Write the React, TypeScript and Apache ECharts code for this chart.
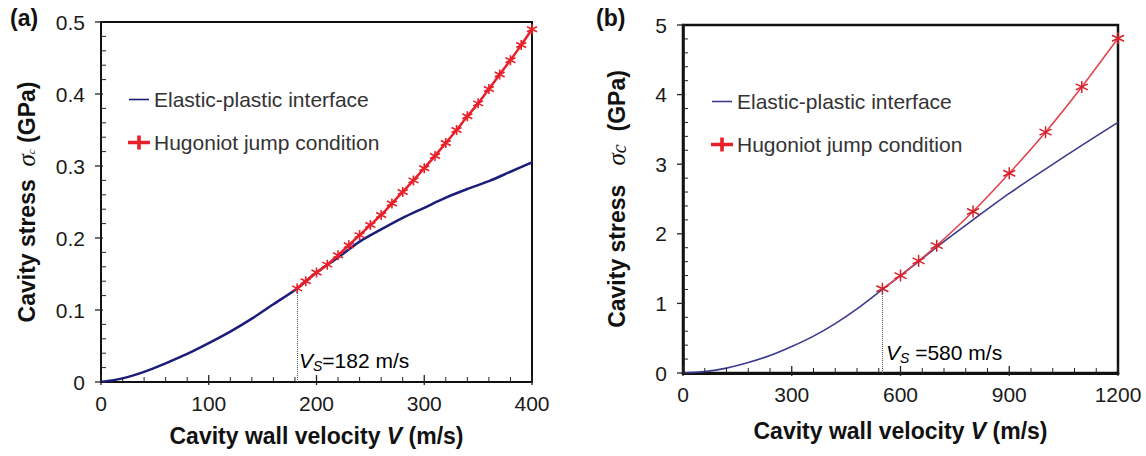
import React, { useEffect, useRef } from "react";
import * as echarts from "echarts";

// Panel (a)
const aElasticV = [0, 20, 40, 60, 80, 100, 120, 140, 160, 182, 200, 220, 240, 260, 280, 300, 320, 340, 360, 380, 400];
const aElasticS = [0, 0.005, 0.014, 0.026, 0.039, 0.054, 0.07, 0.088, 0.108, 0.13, 0.152, 0.173, 0.195, 0.212, 0.228, 0.242, 0.256, 0.268, 0.279, 0.292, 0.305];
const aHugV = [182, 190, 200, 210, 220, 230, 240, 250, 260, 270, 280, 290, 300, 310, 320, 330, 340, 350, 360, 370, 380, 390, 400];
const aHugS = [0.13, 0.14, 0.152, 0.163, 0.176, 0.19, 0.204, 0.218, 0.232, 0.248, 0.264, 0.28, 0.297, 0.314, 0.332, 0.35, 0.369, 0.387, 0.407, 0.427, 0.447, 0.468, 0.49];
const aVs = 182;
const aVsStress = 0.13;

// Panel (b)
const bElasticV = [0, 60, 120, 180, 240, 300, 360, 420, 480, 550, 600, 650, 700, 800, 900, 1000, 1100, 1200];
const bElasticS = [0, 0.02, 0.07, 0.15, 0.25, 0.38, 0.53, 0.71, 0.92, 1.2, 1.4, 1.6, 1.81, 2.2, 2.58, 2.93, 3.27, 3.6];
const bHugV = [550, 600, 650, 700, 800, 900, 1000, 1100, 1200];
const bHugS = [1.21, 1.4, 1.61, 1.83, 2.32, 2.87, 3.46, 4.11, 4.81];
const bVs = 550;
const bVsStress = 1.2;

// Tick positions (major + minor)
const aXTicks = [0, 20, 40, 60, 80, 100, 120, 140, 160, 180, 200, 220, 240, 260, 280, 300, 320, 340, 360, 380, 400];
const aYTicks = [0, 0.02, 0.04, 0.06, 0.08, 0.1, 0.12, 0.14, 0.16, 0.18, 0.2, 0.22, 0.24, 0.26, 0.28, 0.3, 0.32, 0.34, 0.36, 0.38, 0.4, 0.42, 0.44, 0.46, 0.48, 0.5];
const bXTicks = [0, 60, 120, 180, 240, 300, 360, 420, 480, 540, 600, 660, 720, 780, 840, 900, 960, 1020, 1080, 1140, 1200];
const bYTicks = [0, 0.2, 0.4, 0.6, 0.8, 1, 1.2, 1.4, 1.6, 1.8, 2, 2.2, 2.4, 2.6, 2.8, 3, 3.2, 3.4, 3.6, 3.8, 4, 4.2, 4.4, 4.6, 4.8, 5];

const NAME_E = "Elastic-plastic interface";
const NAME_H = "Hugoniot jump condition";

const zip = (xs: number[], ys: number[]) => xs.map((x, i) => [x, ys[i]]);

const STAR = "path://M0,-5L0,5M-4.33,-2.5L4.33,2.5M-4.33,2.5L4.33,-2.5";
const ICON_LINE = "path://M0,5.2L20,5.2L20,6.8L0,6.8Z";
const ICON_PLUS = "path://M0,5.2L20,5.2L20,6.8L0,6.8Z M9.2,0L10.8,0L10.8,12L9.2,12Z";
const FONT = "Liberation Sans, Arial, sans-serif";

const isMajor = (v: number, step: number) => Math.abs(v / step - Math.round(v / step)) < 1e-6;

export default function App() {
  const ref = useRef<HTMLDivElement>(null);
  useEffect(() => {
    if (!ref.current) return;
    const chart = echarts.init(ref.current, null, { renderer: "svg" });

    const axisBase = (min: number, max: number, interval: number, margin: number) => ({
      type: "value",
      min,
      max,
      interval,
      splitLine: { show: false },
      axisTick: { show: false },
      minorTick: { show: false },
      axisLabel: { color: "#1a1a1a", fontSize: 21, fontFamily: FONT, margin, formatter: (v: number) => String(v) },
    });

    const xTickSeries = (idx: number, ticks: number[], step: number) => ({
      type: "custom",
      xAxisIndex: idx,
      yAxisIndex: idx,
      silent: true,
      clip: false,
      z: 5,
      data: ticks.map((v) => [v, 0]),
      renderItem: (params: any, api: any) => {
        const v = api.value(0);
        const p = api.coord([v, api.value(1)]);
        const major = isMajor(v, step);
        return {
          type: "line",
          shape: { x1: p[0], y1: p[1] + (major ? 3 : 0), x2: p[0], y2: p[1] - (major ? 7 : 5) },
          style: { stroke: "#222", lineWidth: major ? 1.3 : 1 },
        };
      },
    });

    const yTickSeries = (idx: number, ticks: number[], step: number) => ({
      type: "custom",
      xAxisIndex: idx,
      yAxisIndex: idx,
      silent: true,
      clip: false,
      z: 5,
      data: ticks.map((v) => [0, v]),
      renderItem: (params: any, api: any) => {
        const v = api.value(1);
        const p = api.coord([api.value(0), v]);
        const major = isMajor(v, step);
        return {
          type: "line",
          shape: { x1: p[0] - (major ? 6 : 0), y1: p[1], x2: p[0] + (major ? 2 : 5), y2: p[1] },
          style: { stroke: "#222", lineWidth: major ? 1.3 : 1 },
        };
      },
    });

    const nameRich = {
      b: { fontSize: 23, fontWeight: "bold", fontFamily: FONT, color: "#111" },
      s: { fontSize: 25, fontStyle: "italic", fontFamily: "Liberation Serif, serif", color: "#111" },
      sub: { fontSize: 11, fontStyle: "italic", fontFamily: "Liberation Serif, serif", color: "#111", padding: [8, 0, 0, 0] },
      sub2: { fontSize: 20, fontStyle: "italic", fontFamily: "Liberation Serif, serif", color: "#111", padding: [4, 0, 0, 0] },
    };

    const xName = "{b|Cavity wall velocity }{i|V}{b| (m/s)}";
    const xRich = {
      b: { fontSize: 23, fontWeight: "bold", fontFamily: FONT, color: "#111" },
      i: { fontSize: 23, fontWeight: "bold", fontStyle: "italic", fontFamily: FONT, color: "#111" },
    };

    const vsRich = {
      v: { fontSize: 21, fontStyle: "italic", fontFamily: FONT, color: "#333" },
      s: { fontSize: 14, fontStyle: "italic", fontFamily: FONT, color: "#777", padding: [10, 0, 0, 0] },
      t: { fontSize: 21, fontFamily: FONT, color: "#333" },
    };

    const legendBase = {
      orient: "vertical",
      itemWidth: 20,
      itemHeight: 12,
      itemGap: 22,
      textStyle: { fontSize: 21, color: "#333", fontFamily: FONT },
    };

    const option: any = {
      animation: false,
      backgroundColor: "#fff",
      grid: [
        { left: 101, top: 22, width: 431, height: 360, show: true, borderColor: "#111", borderWidth: 2, backgroundColor: "transparent" },
        { left: 683, top: 25, width: 435, height: 348, show: true, borderColor: "#111", borderWidth: 2.5, backgroundColor: "transparent" },
      ],
      xAxis: [
        {
          ...axisBase(0, 400, 100, 11),
          gridIndex: 0,
          axisLine: { show: true, lineStyle: { color: "#111", width: 2 } },
          name: xName,
          nameLocation: "middle",
          nameGap: 42,
          nameTextStyle: { rich: xRich },
        },
        {
          ...axisBase(0, 1200, 300, 11),
          gridIndex: 1,
          axisLine: { show: true, lineStyle: { color: "#111", width: 3 } },
          name: xName,
          nameLocation: "middle",
          nameGap: 46,
          nameTextStyle: { rich: xRich },
        },
      ],
      yAxis: [
        {
          ...axisBase(0, 0.5, 0.1, 16),
          gridIndex: 0,
          axisLine: { show: true, lineStyle: { color: "#111", width: 2 } },
          name: "{b|Cavity stress  }{s|σ}{sub|c}{b| (GPa)}",
          nameLocation: "middle",
          nameRotate: 90,
          nameGap: 62,
          nameTextStyle: { rich: nameRich },
        },
        {
          ...axisBase(0, 5, 1, 16),
          gridIndex: 1,
          axisLine: { show: true, lineStyle: { color: "#111", width: 2.5 } },
          name: "{b|Cavity stress   }{s|σ}{sub2|c}{b|  (GPa)}",
          nameLocation: "middle",
          nameRotate: 90,
          nameGap: 54,
          nameTextStyle: { rich: nameRich },
        },
      ],
      legend: [
        {
          ...legendBase,
          left: 123,
          top: 84,
          data: [
            { name: NAME_E, icon: ICON_LINE, itemStyle: { color: "#1c1c7c" } },
            { name: NAME_H, icon: ICON_PLUS, itemStyle: { color: "#e8202a" } },
          ],
        },
        {
          ...legendBase,
          left: 706,
          top: 86,
          data: [
            { name: NAME_E, icon: ICON_LINE, itemStyle: { color: "#3a3a8c" } },
            { name: NAME_H, icon: ICON_PLUS, itemStyle: { color: "#e04450" } },
          ],
        },
      ],
      series: [
        xTickSeries(0, aXTicks, 100),
        yTickSeries(0, aYTicks, 0.1),
        xTickSeries(1, bXTicks, 300),
        yTickSeries(1, bYTicks, 1),
        {
          name: NAME_E,
          type: "line",
          xAxisIndex: 0,
          yAxisIndex: 0,
          data: zip(aElasticV, aElasticS),
          smooth: 0.3,
          showSymbol: false,
          symbol: "none",
          lineStyle: { color: "#1c1c7c", width: 2.5 },
          itemStyle: { color: "#1c1c7c" },
          z: 2,
          markLine: {
            silent: true,
            symbol: "none",
            label: { show: false },
            lineStyle: { type: "dotted", color: "#555", width: 1 },
            data: [[{ coord: [aVs, 0] }, { coord: [aVs, aVsStress] }]],
          },
        },
        {
          name: NAME_H,
          type: "line",
          xAxisIndex: 0,
          yAxisIndex: 0,
          data: zip(aHugV, aHugS),
          smooth: 0.2,
          symbol: STAR,
          symbolSize: 10,
          lineStyle: { color: "#e8202a", width: 2.5 },
          itemStyle: { color: "#e8202a", borderColor: "#e8202a", borderWidth: 1.6 },
          z: 3,
        },
        {
          name: NAME_E,
          type: "line",
          xAxisIndex: 1,
          yAxisIndex: 1,
          data: zip(bElasticV, bElasticS),
          smooth: 0.3,
          showSymbol: false,
          symbol: "none",
          lineStyle: { color: "#3a3a8c", width: 1.6 },
          itemStyle: { color: "#3a3a8c" },
          z: 2,
          markLine: {
            silent: true,
            symbol: "none",
            label: { show: false },
            lineStyle: { type: "dotted", color: "#555", width: 1 },
            data: [[{ coord: [bVs, 0] }, { coord: [bVs, bVsStress] }]],
          },
        },
        {
          name: NAME_H,
          type: "line",
          xAxisIndex: 1,
          yAxisIndex: 1,
          data: zip(bHugV, bHugS),
          smooth: 0.2,
          symbol: STAR,
          symbolSize: 12,
          lineStyle: { color: "#e04450", width: 1.6 },
          itemStyle: { color: "#e04450", borderColor: "#d8202a", borderWidth: 1.5 },
          z: 3,
        },
      ],
      graphic: [
        { type: "text", left: 10, top: 6, style: { text: "(a)", fontSize: 23, fontWeight: "bold", fontFamily: FONT, fill: "#111" } },
        { type: "text", left: 596, top: 6, style: { text: "(b)", fontSize: 23, fontWeight: "bold", fontFamily: FONT, fill: "#111" } },
        {
          type: "text",
          left: 299,
          top: 350,
          style: { text: "{v|V}{s|S}{t|=182 m/s}", rich: vsRich },
        },
        {
          type: "text",
          left: 886,
          top: 342,
          style: { text: "{v|V}{s|S}{t| =580 m/s}", rich: vsRich },
        },
      ],
    };

    chart.setOption(option);
    return () => chart.dispose();
  }, []);

  return (
    <div
      ref={ref}
      style={{ position: "fixed", left: 0, top: 0, width: 1146, height: 456, background: "#fff" }}
    />
  );
}
